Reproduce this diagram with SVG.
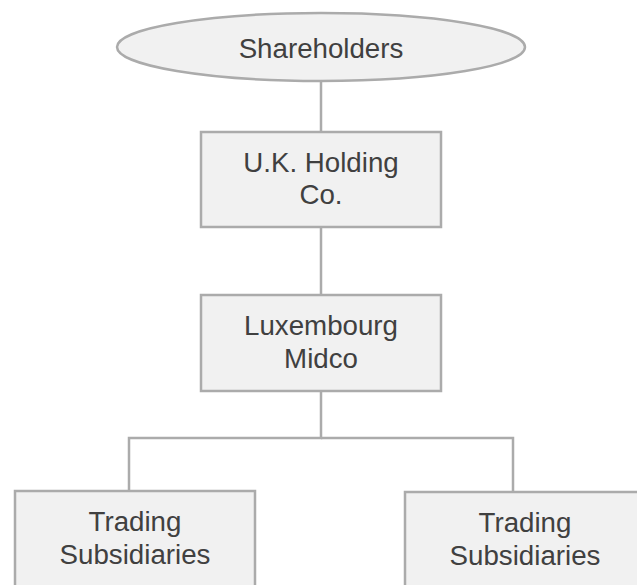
<svg xmlns="http://www.w3.org/2000/svg" width="637" height="585" viewBox="0 0 637 585">
<style>
.n{fill:#f1f1f1;stroke:#ababab;stroke-width:2.5}
.c{fill:none;stroke:#ababab;stroke-width:2.5}
text{font-family:"Liberation Sans",Arial,sans-serif;font-size:27.7px;fill:#404040;text-anchor:middle}
</style>
<rect width="637" height="585" fill="#ffffff"/>
<g id="connectors">
<path class="c" d="M321 81V132"/>
<path class="c" d="M321 227V295"/>
<path class="c" d="M321 391V438H129V491"/>
<path class="c" d="M321 438H513V492"/>
</g>
<g id="shareholders">
<ellipse class="n" cx="321" cy="47" rx="204" ry="34"/>
<text x="321" y="58">Shareholders</text>
</g>
<g id="uk-holding">
<rect class="n" x="201" y="132" width="240" height="95"/>
<text x="321" y="172">U.K. Holding</text>
<text x="321" y="204">Co.</text>
</g>
<g id="luxembourg-midco">
<rect class="n" x="201" y="295" width="240" height="96"/>
<text x="321" y="335">Luxembourg</text>
<text x="321" y="368">Midco</text>
</g>
<g id="trading-left">
<rect class="n" x="15" y="491" width="240" height="110"/>
<text x="135" y="531">Trading</text>
<text x="135" y="564">Subsidiaries</text>
</g>
<g id="trading-right">
<rect class="n" x="405" y="492" width="240" height="110"/>
<text x="525" y="532">Trading</text>
<text x="525" y="565">Subsidiaries</text>
</g>
</svg>
